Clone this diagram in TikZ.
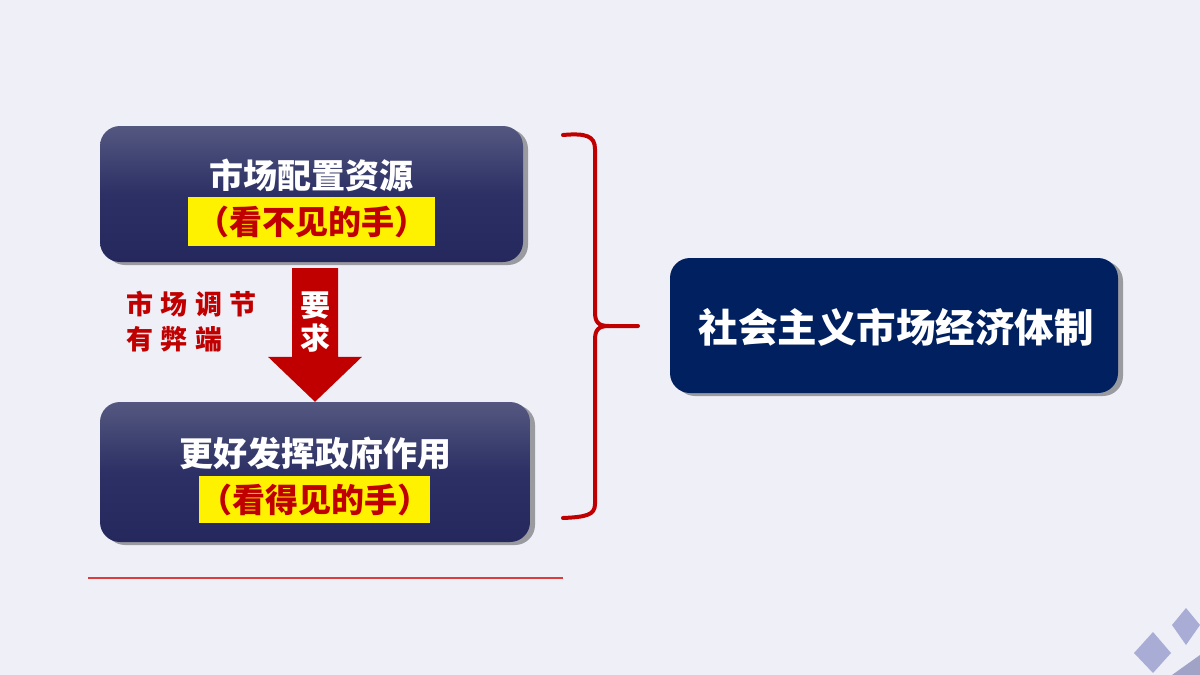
\documentclass[tikz,border=0pt]{standalone}
\usepackage{fontspec}
\newfontfamily\cjk{Noto Sans CJK SC}
\usetikzlibrary{shadows,calc}
\definecolor{bg}{RGB}{238,239,247}
\definecolor{navyA}{RGB}{84,88,128}
\definecolor{navyM}{RGB}{44,48,100}
\definecolor{navyB}{RGB}{36,40,92}
\definecolor{navyC}{RGB}{0,32,96}
\definecolor{darkred}{RGB}{192,0,0}
\definecolor{lineRed}{RGB}{220,60,60}
\definecolor{diam}{RGB}{169,173,214}
\definecolor{tri}{RGB}{160,162,198}
\begin{document}
\begin{tikzpicture}[x=1pt,y=-1pt,
  shadowed/.style={drop shadow={shadow xshift=5pt,shadow yshift=-3pt,fill=black,opacity=0.35}},
  gradbox/.style={shadowed,rounded corners=20pt,top color=navyA,bottom color=navyB,middle color=navyM,draw=none},
  title/.style={text=white,font=\cjk\bfseries\fontsize{34}{40}\selectfont,inner sep=0pt},
  hand/.style={fill=yellow,text=darkred,font=\cjk\bfseries\fontsize{33}{40}\selectfont,inner sep=0pt},
  note/.style={text=darkred,font=\cjk\bfseries\fontsize{27}{35}\selectfont,align=left,inner sep=0pt},
  brace/.style={draw=darkred,line width=4pt,line cap=round,line join=round},
  gem/.style={fill=diam,draw=none}]
\useasboundingbox (0,0) rectangle (1200,675);
\fill[bg] (0,0) rectangle (1200,675);

% boxes
\node[gradbox,minimum width=423pt,minimum height=136pt] (b1) at (311.5,194) {};
\node[gradbox,minimum width=430pt,minimum height=140pt] (b2) at (315,472) {};
\node[shadowed,rounded corners=20pt,fill=navyC,minimum width=448pt,minimum height=135pt] (b3) at (894,325.5) {};

% texts in boxes
\node[title] (t1) at (311.5,175) {市场配置资源};
\node[hand,minimum width=247pt,minimum height=49pt] (h1) at (311.5,221.5) {（看不见的手）};
\node[title] (t2) at (315,453) {更好发挥政府作用};
\node[hand,minimum width=225pt,minimum height=47pt] (h2) at (314.5,499.5) {（看得见的手）};
\node[text=white,font=\cjk\bfseries\fontsize{39.5}{45}\selectfont,inner sep=0pt] (t3) at (896,327) {社会主义市场经济体制};

% arrow
\coordinate (aTop) at ($(b1.south)+(3.5,6)$);
\coordinate (aTip) at (b2.north);
\fill[darkred] ($(aTop)+(-23,0)$) -- ($(aTop)+(23,0)$) -- ($(aTip)+(23,-45)$) -- ($(aTip)+(47,-45)$)
  -- (aTip) -- ($(aTip)+(-47,-45)$) -- ($(aTip)+(-23,-45)$) -- cycle;
\node[text=white,font=\cjk\bfseries\fontsize{30}{33}\selectfont,align=center,inner sep=0pt] (req) at (315,322) {要\\求};

% note
\node[note,anchor=west] (n1) at (126,322) {市\hspace{7.5pt}场\hspace{7.5pt}调\hspace{7.5pt}节\\有\hspace{7.5pt}弊\hspace{7.5pt}端};

% brace
\coordinate (bm) at (609,326);
\coordinate (bt) at (638,326);
\draw[brace] (563,135) .. controls (586,133) and (595,136) .. (595,149) -- (595,312)
  .. controls (595,322) and (598,326) .. (bm) -- (bt);
\draw[brace] (bm) .. controls (598,326) and (595,330) .. (595,340) -- (595,504)
  .. controls (595,515) and (586,517) .. (563,518);

% line
\draw[lineRed,line width=1.2pt] (88,578) -- (563,578);

% decorations
\fill[gem] (1153,632) -- (1171,653) -- (1153,673) -- (1134,653) -- cycle;
\fill[gem] (1186,608) -- (1200,625) -- (1186,645) -- (1172,625) -- cycle;
\fill[tri] (1172,675) -- (1200,655) -- (1200,675) -- cycle;
\end{tikzpicture}
\end{document}
